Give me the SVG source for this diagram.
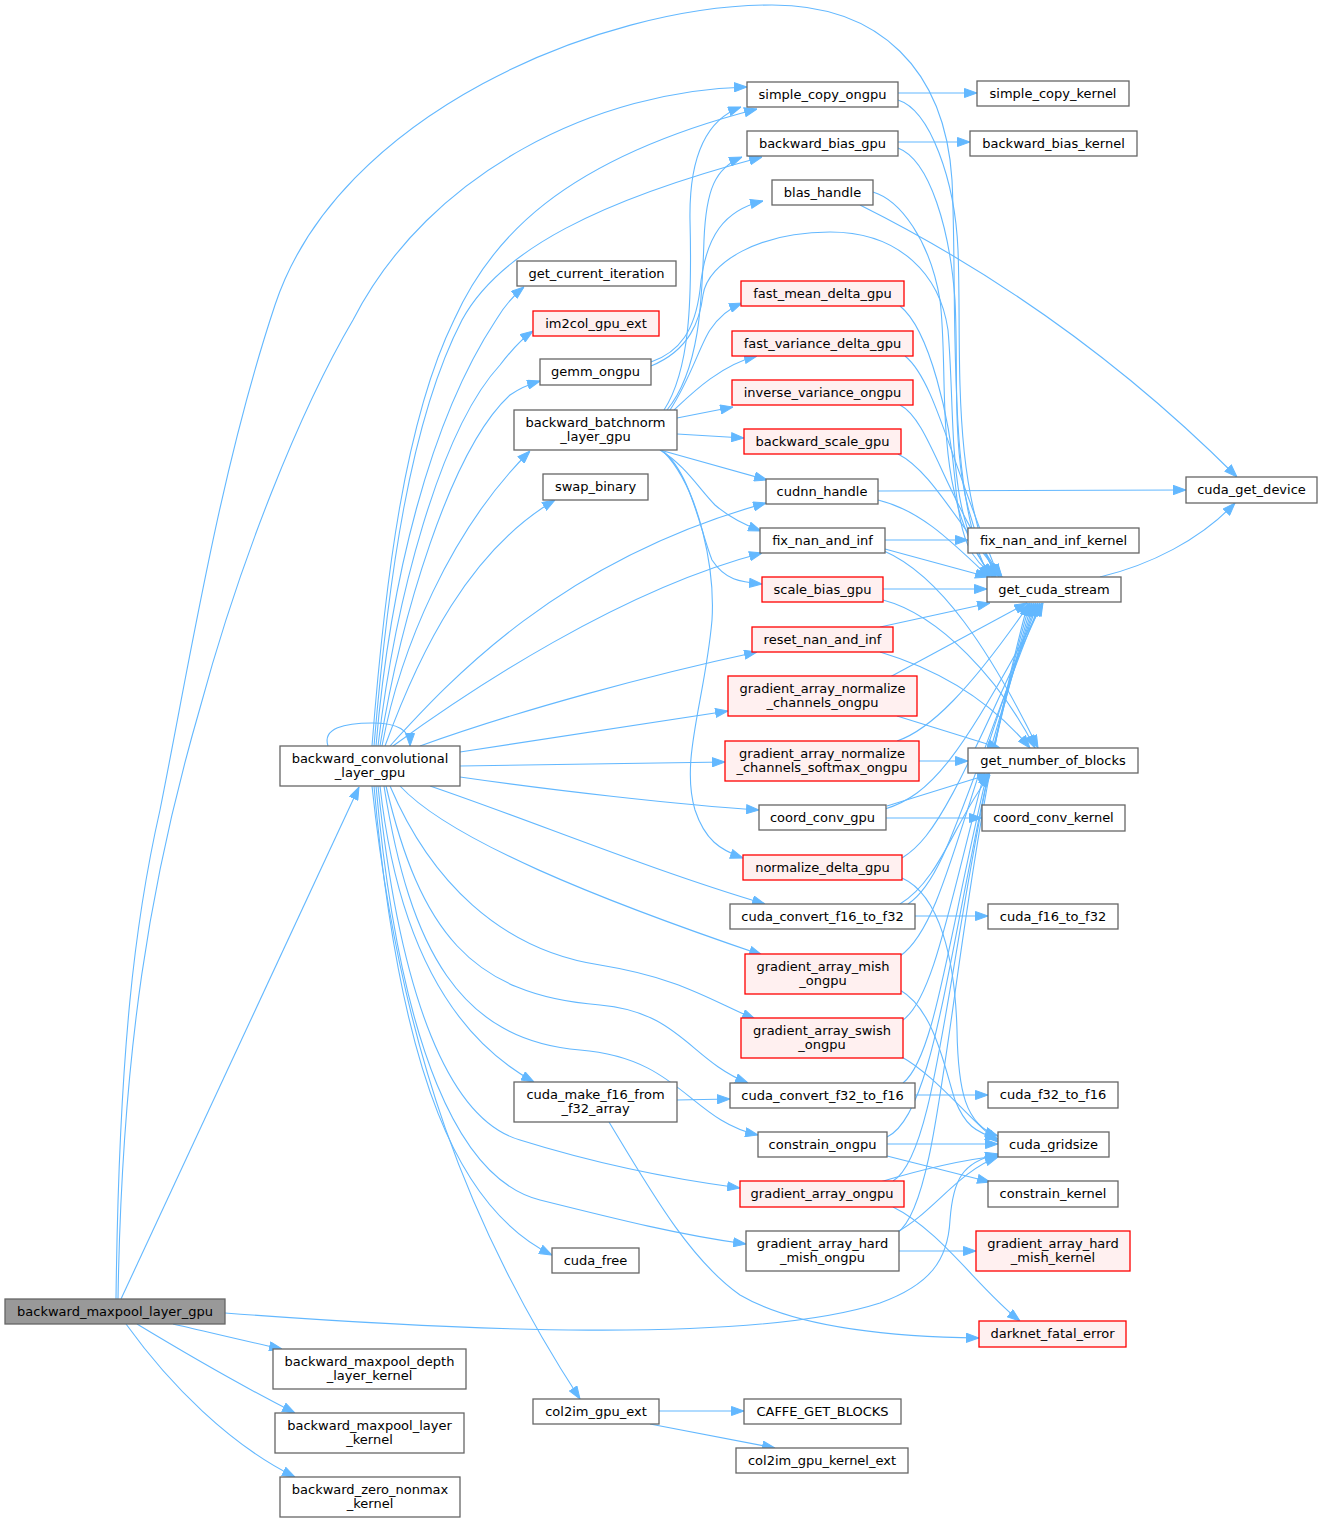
<svg xmlns="http://www.w3.org/2000/svg" width="1323" height="1522" viewBox="0 0 1323 1522">
<defs>
<marker id="a" markerWidth="13" markerHeight="10" refX="13" refY="5" orient="auto" markerUnits="userSpaceOnUse"><path d="M0.5,0.5 L13,5 L0.5,9.5 z" fill="#63b8ff" stroke="#63b8ff" stroke-width="1"/></marker>
</defs>
<style>
.n rect{fill:#ffffff;stroke:#666666;stroke-width:1.3}
.r rect{fill:#fff0f0;stroke:#ff0000;stroke-width:1.3}
.root rect{fill:#999999;stroke:#666666;stroke-width:1.3}
text{font-family:"DejaVu Sans","Liberation Sans",sans-serif;font-size:13px;text-anchor:middle;fill:#000000}
#edges path{fill:none;stroke:#63b8ff;stroke-width:1.1;marker-end:url(#a)}
</style>
<rect width="1323" height="1522" fill="#ffffff"/>
<g id="edges">
<path d="M121,1299 L359,787"/>
<path d="M118,1299 C122,1050 150,880 200,708 C240,560 300,410 353,320 C430,170 600,90 747,87"/>
<path d="M116,1299 C119,1050 135,920 160,810 C190,660 220,470 275,305 C338,115 600,5 772,5 C880,5 945,70 952,180 C958,300 945,500 990,577"/>
<path d="M225,1313 C450,1330 750,1345 880,1303 C930,1285 948,1260 950,1220 C953,1180 962,1162 998,1154"/>
<path d="M173,1324 C200,1330 240,1340 282,1349"/>
<path d="M137,1324 C180,1350 240,1385 295,1413"/>
<path d="M126,1324 C170,1385 230,1445 295,1477"/>
<path d="M328,746 C322,728 345,723 372,723 C398,723 410,730 410,746"/>
<path d="M372,746 C385,580 405,420 454,320 C490,240 560,160 757,109"/>
<path d="M374,746 C388,580 410,420 462,320 C500,250 600,200 762,157"/>
<path d="M376,746 C390,580 430,420 496,320 C505,305 514,295 524,287"/>
<path d="M378,746 C395,600 440,430 500,365 C510,352 520,340 533,331"/>
<path d="M380,746 C400,620 450,450 510,395 C520,388 530,384 540,381"/>
<path d="M382,746 C400,650 450,530 530,451"/>
<path d="M385,746 C420,650 470,550 555,500"/>
<path d="M390,746 C450,680 560,560 766,503"/>
<path d="M393,746 C470,690 620,590 762,553"/>
<path d="M420,746 C520,710 650,675 757,652"/>
<path d="M460,752 L728,711"/>
<path d="M460,766 L725,762"/>
<path d="M460,777 C550,790 680,805 759,810"/>
<path d="M430,786 C530,820 650,870 765,904"/>
<path d="M400,786 C450,840 600,900 762,955"/>
<path d="M390,786 C430,880 500,950 600,965 C680,978 710,1000 755,1019"/>
<path d="M380,786 C395,920 440,1030 534,1082"/>
<path d="M386,786 C420,930 470,995 600,1005 C680,1012 690,1060 748,1083"/>
<path d="M384,786 C410,950 460,1040 580,1050 C680,1058 690,1120 758,1135"/>
<path d="M378,786 C400,1000 450,1120 520,1140 C600,1165 680,1180 740,1188"/>
<path d="M376,786 C400,1050 460,1180 540,1200 C620,1220 680,1235 746,1244"/>
<path d="M374,786 C400,1080 460,1210 552,1255"/>
<path d="M372,786 C400,1050 470,1230 580,1399"/>
<path d="M664,410 C690,370 692,300 690,220 C689,160 705,120 741,107"/>
<path d="M667,410 C700,370 702,300 704,240 C706,190 715,168 742,157"/>
<path d="M651,362 C680,352 695,330 700,290 C705,235 725,210 763,201"/>
<path d="M651,366 C690,350 700,320 703,295 C708,262 760,232 830,232 C900,232 940,275 948,330 C956,420 945,520 993,577"/>
<path d="M670,410 C690,380 700,345 710,330 C720,315 730,308 742,303"/>
<path d="M674,410 C690,395 720,365 757,356"/>
<path d="M677,418 L733,407"/>
<path d="M677,434 L744,438"/>
<path d="M660,450 L767,480"/>
<path d="M660,450 C685,465 700,490 715,505 C730,518 745,525 761,531"/>
<path d="M662,451 C690,470 700,530 712,560 C725,580 740,582 762,584"/>
<path d="M664,452 C700,490 715,570 712,620 C705,700 680,760 695,810 C705,840 720,850 743,858"/>
<path d="M898,93 L977,93"/>
<path d="M898,100 C930,110 955,180 958,250 C962,350 950,480 996,577"/>
<path d="M898,142 L970,142"/>
<path d="M898,148 C930,160 950,230 955,300 C960,400 945,500 999,577"/>
<path d="M873,192 C900,200 930,240 940,300 C950,380 930,500 993,577"/>
<path d="M860,205 C960,255 1100,340 1237,477"/>
<path d="M900,306 C930,330 950,420 955,480 C960,540 970,560 996,577"/>
<path d="M905,356 C935,380 950,460 999,577"/>
<path d="M900,405 C930,420 945,500 1002,577"/>
<path d="M898,454 C930,470 955,520 1002,577"/>
<path d="M878,491 L1186,490"/>
<path d="M878,500 C920,510 950,540 990,578"/>
<path d="M885,540 L968,540"/>
<path d="M885,549 L988,577"/>
<path d="M884,551 C940,575 990,650 1038,748"/>
<path d="M883,589 L987,589"/>
<path d="M883,600 C940,615 1000,680 1035,748"/>
<path d="M880,627 L990,603"/>
<path d="M880,652 C940,670 990,700 1030,748"/>
<path d="M890,677 L1027,603"/>
<path d="M897,716 L1000,748"/>
<path d="M919,761 L968,761"/>
<path d="M897,741 C930,730 970,690 1030,603"/>
<path d="M886,818 L982,818"/>
<path d="M887,806 L990,774"/>
<path d="M885,809 C930,795 960,760 1043,603"/>
<path d="M902,858 C935,838 958,790 1042,603"/>
<path d="M902,878 C940,895 955,960 957,1030 C958,1090 965,1125 998,1136"/>
<path d="M915,916 L988,916"/>
<path d="M900,904 C940,880 955,820 990,775"/>
<path d="M908,904 C945,880 962,800 1040,603"/>
<path d="M900,956 C945,925 962,800 1038,603"/>
<path d="M900,990 C935,1010 945,1070 955,1100 C965,1125 975,1132 998,1139"/>
<path d="M903,1020 C945,990 960,820 1036,603"/>
<path d="M900,1056 C935,1075 965,1115 998,1142"/>
<path d="M677,1100 L730,1099"/>
<path d="M609,1122 C650,1190 690,1260 740,1295 C800,1330 900,1337 979,1338"/>
<path d="M915,1095 L988,1095"/>
<path d="M903,1083 C945,1050 955,850 1034,603"/>
<path d="M887,1144 L998,1144"/>
<path d="M887,1156 L990,1182"/>
<path d="M887,1137 C945,1110 952,870 1032,603"/>
<path d="M880,1182 C920,1170 960,1160 998,1156"/>
<path d="M893,1181 C945,1150 950,880 1030,603"/>
<path d="M893,1207 C940,1230 980,1290 1020,1321"/>
<path d="M899,1251 L976,1251"/>
<path d="M897,1232 C930,1215 960,1170 998,1157"/>
<path d="M897,1233 C948,1200 948,900 1028,603"/>
<path d="M1100,577 C1150,565 1200,540 1235,503"/>
<path d="M659,1411 L744,1411"/>
<path d="M650,1424 L775,1448"/>
</g>
<g id="backward_maxpool_layer_gpu" class="root"><rect x="5" y="1299" width="220" height="25"/><text x="115" y="1315.5">backward_maxpool_layer_gpu</text></g>
<g id="backward_convolutional_layer_gpu" class="n"><rect x="280" y="746" width="180" height="40"/><text x="370" y="762.5">backward_convolutional</text><text x="370" y="777">_layer_gpu</text></g>
<g id="backward_maxpool_depth_layer_kernel" class="n"><rect x="273" y="1349" width="193" height="40"/><text x="369.5" y="1365.5">backward_maxpool_depth</text><text x="369.5" y="1380">_layer_kernel</text></g>
<g id="backward_maxpool_layer_kernel" class="n"><rect x="275" y="1413" width="189" height="40"/><text x="369.5" y="1429.5">backward_maxpool_layer</text><text x="369.5" y="1444">_kernel</text></g>
<g id="backward_zero_nonmax_kernel" class="n"><rect x="280" y="1477" width="180" height="40"/><text x="370" y="1493.5">backward_zero_nonmax</text><text x="370" y="1508">_kernel</text></g>
<g id="simple_copy_ongpu" class="n"><rect x="747" y="82" width="151" height="25"/><text x="822.5" y="98.5">simple_copy_ongpu</text></g>
<g id="backward_bias_gpu" class="n"><rect x="747" y="131" width="151" height="25"/><text x="822.5" y="147.5">backward_bias_gpu</text></g>
<g id="blas_handle" class="n"><rect x="772" y="180" width="101" height="25"/><text x="822.5" y="196.5">blas_handle</text></g>
<g id="get_current_iteration" class="n"><rect x="517" y="261" width="159" height="25"/><text x="596.5" y="277.5">get_current_iteration</text></g>
<g id="im2col_gpu_ext" class="r"><rect x="533" y="311" width="126" height="25"/><text x="596" y="327.5">im2col_gpu_ext</text></g>
<g id="gemm_ongpu" class="n"><rect x="540" y="359" width="111" height="26"/><text x="595.5" y="376">gemm_ongpu</text></g>
<g id="fast_mean_delta_gpu" class="r"><rect x="741" y="281" width="163" height="25"/><text x="822.5" y="297.5">fast_mean_delta_gpu</text></g>
<g id="fast_variance_delta_gpu" class="r"><rect x="732" y="331" width="181" height="25"/><text x="822.5" y="347.5">fast_variance_delta_gpu</text></g>
<g id="inverse_variance_ongpu" class="r"><rect x="732" y="380" width="181" height="25"/><text x="822.5" y="396.5">inverse_variance_ongpu</text></g>
<g id="backward_batchnorm_layer_gpu" class="n"><rect x="514" y="410" width="163" height="40"/><text x="595.5" y="426.5">backward_batchnorm</text><text x="595.5" y="441">_layer_gpu</text></g>
<g id="backward_scale_gpu" class="r"><rect x="744" y="429" width="157" height="25"/><text x="822.5" y="445.5">backward_scale_gpu</text></g>
<g id="swap_binary" class="n"><rect x="543" y="474" width="105" height="26"/><text x="595.5" y="491">swap_binary</text></g>
<g id="cudnn_handle" class="n"><rect x="766" y="479" width="112" height="25"/><text x="822" y="495.5">cudnn_handle</text></g>
<g id="fix_nan_and_inf" class="n"><rect x="760" y="528" width="125" height="25"/><text x="822.5" y="544.5">fix_nan_and_inf</text></g>
<g id="scale_bias_gpu" class="r"><rect x="762" y="577" width="121" height="25"/><text x="822.5" y="593.5">scale_bias_gpu</text></g>
<g id="reset_nan_and_inf" class="r"><rect x="752" y="627" width="141" height="25"/><text x="822.5" y="643.5">reset_nan_and_inf</text></g>
<g id="gradient_array_normalize_channels_ongpu" class="r"><rect x="728" y="676" width="189" height="40"/><text x="822.5" y="692.5">gradient_array_normalize</text><text x="822.5" y="707">_channels_ongpu</text></g>
<g id="gradient_array_normalize_channels_softmax_ongpu" class="r"><rect x="725" y="741" width="194" height="40"/><text x="822" y="757.5">gradient_array_normalize</text><text x="822" y="772">_channels_softmax_ongpu</text></g>
<g id="coord_conv_gpu" class="n"><rect x="759" y="805" width="127" height="25"/><text x="822.5" y="821.5">coord_conv_gpu</text></g>
<g id="normalize_delta_gpu" class="r"><rect x="743" y="855" width="159" height="25"/><text x="822.5" y="871.5">normalize_delta_gpu</text></g>
<g id="cuda_convert_f16_to_f32" class="n"><rect x="730" y="904" width="185" height="25"/><text x="822.5" y="920.5">cuda_convert_f16_to_f32</text></g>
<g id="gradient_array_mish_ongpu" class="r"><rect x="745" y="954" width="156" height="40"/><text x="823" y="970.5">gradient_array_mish</text><text x="823" y="985">_ongpu</text></g>
<g id="gradient_array_swish_ongpu" class="r"><rect x="741" y="1018" width="162" height="40"/><text x="822" y="1034.5">gradient_array_swish</text><text x="822" y="1049">_ongpu</text></g>
<g id="cuda_make_f16_from_f32_array" class="n"><rect x="514" y="1082" width="163" height="40"/><text x="595.5" y="1098.5">cuda_make_f16_from</text><text x="595.5" y="1113">_f32_array</text></g>
<g id="cuda_convert_f32_to_f16" class="n"><rect x="730" y="1083" width="185" height="25"/><text x="822.5" y="1099.5">cuda_convert_f32_to_f16</text></g>
<g id="constrain_ongpu" class="n"><rect x="758" y="1132" width="129" height="25"/><text x="822.5" y="1148.5">constrain_ongpu</text></g>
<g id="gradient_array_ongpu" class="r"><rect x="740" y="1181" width="164" height="26"/><text x="822" y="1198">gradient_array_ongpu</text></g>
<g id="gradient_array_hard_mish_ongpu" class="n"><rect x="746" y="1231" width="153" height="40"/><text x="822.5" y="1247.5">gradient_array_hard</text><text x="822.5" y="1262">_mish_ongpu</text></g>
<g id="cuda_free" class="n"><rect x="552" y="1248" width="87" height="25"/><text x="595.5" y="1264.5">cuda_free</text></g>
<g id="col2im_gpu_ext" class="n"><rect x="533" y="1399" width="126" height="25"/><text x="596" y="1415.5">col2im_gpu_ext</text></g>
<g id="CAFFE_GET_BLOCKS" class="n"><rect x="744" y="1399" width="157" height="25"/><text x="822.5" y="1415.5">CAFFE_GET_BLOCKS</text></g>
<g id="col2im_gpu_kernel_ext" class="n"><rect x="736" y="1448" width="172" height="25"/><text x="822" y="1464.5">col2im_gpu_kernel_ext</text></g>
<g id="simple_copy_kernel" class="n"><rect x="977" y="81" width="152" height="25"/><text x="1053" y="97.5">simple_copy_kernel</text></g>
<g id="backward_bias_kernel" class="n"><rect x="970" y="131" width="167" height="25"/><text x="1053.5" y="147.5">backward_bias_kernel</text></g>
<g id="cuda_get_device" class="n"><rect x="1186" y="477" width="131" height="26"/><text x="1251.5" y="494">cuda_get_device</text></g>
<g id="fix_nan_and_inf_kernel" class="n"><rect x="968" y="528" width="171" height="25"/><text x="1053.5" y="544.5">fix_nan_and_inf_kernel</text></g>
<g id="get_cuda_stream" class="n"><rect x="987" y="577" width="134" height="25"/><text x="1054" y="593.5">get_cuda_stream</text></g>
<g id="get_number_of_blocks" class="n"><rect x="968" y="748" width="170" height="25"/><text x="1053" y="764.5">get_number_of_blocks</text></g>
<g id="coord_conv_kernel" class="n"><rect x="982" y="805" width="143" height="26"/><text x="1053.5" y="822">coord_conv_kernel</text></g>
<g id="cuda_f16_to_f32" class="n"><rect x="988" y="904" width="130" height="25"/><text x="1053" y="920.5">cuda_f16_to_f32</text></g>
<g id="cuda_f32_to_f16" class="n"><rect x="988" y="1082" width="130" height="26"/><text x="1053" y="1099">cuda_f32_to_f16</text></g>
<g id="cuda_gridsize" class="n"><rect x="998" y="1132" width="111" height="25"/><text x="1053.5" y="1148.5">cuda_gridsize</text></g>
<g id="constrain_kernel" class="n"><rect x="988" y="1181" width="130" height="26"/><text x="1053" y="1198">constrain_kernel</text></g>
<g id="gradient_array_hard_mish_kernel" class="r"><rect x="976" y="1231" width="154" height="40"/><text x="1053" y="1247.5">gradient_array_hard</text><text x="1053" y="1262">_mish_kernel</text></g>
<g id="darknet_fatal_error" class="r"><rect x="979" y="1321" width="147" height="26"/><text x="1052.5" y="1338">darknet_fatal_error</text></g>
</svg>
